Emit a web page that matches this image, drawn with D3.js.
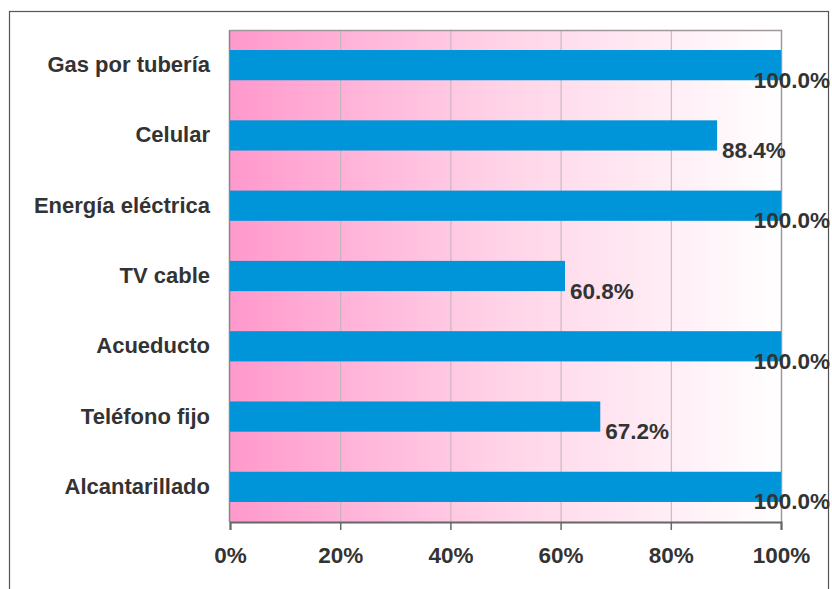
<!DOCTYPE html>
<html><head><meta charset="utf-8">
<script src="https://cdn.jsdelivr.net/npm/d3@7"></script>
<style>body{margin:0;background:#fff}svg{display:block}</style>
</head><body>
<svg id="c" width="832" height="589"></svg>
<script>
const categories = ["Gas por tubería","Celular","Energía eléctrica","TV cable","Acueducto","Teléfono fijo","Alcantarillado"];
const values = [100.0, 88.4, 100.0, 60.8, 100.0, 67.2, 100.0];
const tickValues = [0,20,40,60,80,100];

const svg = d3.select("#c");
const m = {left:230, top:30, right:781, bottom:522};
const font = "'Liberation Sans', Arial, sans-serif";

const x = d3.scaleLinear().domain([0,100]).range([m.left, m.right]);
const y = d3.scaleBand().domain(categories).range([m.top, m.bottom]).paddingInner(0.57).paddingOuter(0.285);

// outer frame
svg.append("rect").attr("x",9.5).attr("y",11.5).attr("width",819).attr("height",600)
  .attr("fill","#fff").attr("stroke","#555").attr("stroke-width",1.2);

const defs = svg.append("defs");
const g = defs.append("linearGradient").attr("id","bg").attr("x1","0").attr("x2","1").attr("y1","0").attr("y2","0");
g.append("stop").attr("offset","0%").attr("stop-color","#ff99cc");
g.append("stop").attr("offset","50%").attr("stop-color","#ffd4e8");
g.append("stop").attr("offset","100%").attr("stop-color","#ffffff");

svg.append("rect").attr("x",m.left).attr("y",m.top).attr("width",m.right-m.left).attr("height",m.bottom-m.top)
  .attr("fill","url(#bg)");

// gridlines
svg.append("g").selectAll("line").data(tickValues.slice(1,-1)).join("line")
  .attr("x1",d=>x(d)+0.5).attr("x2",d=>x(d)+0.5).attr("y1",m.top).attr("y2",m.bottom)
  .attr("stroke","#bcb4b4").attr("stroke-width",1);

// plot border top/right
svg.append("path").attr("d",`M${m.left},${m.top+0.5}H${m.right+0.5}V${m.bottom}`)
  .attr("fill","none").attr("stroke","#a09898").attr("stroke-width",1.5);
// left axis
svg.append("line").attr("x1",m.left-0.5).attr("x2",m.left-0.5).attr("y1",m.top).attr("y2",m.bottom)
  .attr("stroke","#888").attr("stroke-width",1.5);

// bars
svg.append("g").selectAll("rect").data(values).join("rect")
  .attr("x",x(0)).attr("y",(d,i)=>y(categories[i]))
  .attr("width",d=>x(d)-x(0)).attr("height",y.bandwidth())
  .attr("fill","#0094d9");

// bottom axis
const ax = svg.append("g").attr("transform",`translate(0,${m.bottom})`)
  .call(d3.axisBottom(x).tickValues(tickValues).tickFormat(d=>d+"%").tickSize(8).tickPadding(17));
ax.select(".domain").attr("stroke","#666").attr("stroke-width",2);
ax.selectAll(".tick line").attr("stroke","#666").attr("stroke-width",1.5);
ax.selectAll(".tick text").attr("font-family",font).attr("font-weight","bold").attr("font-size",22.5).attr("fill","#333");

// category labels
svg.append("g").selectAll("text").data(categories).join("text")
  .attr("x",m.left-20).attr("y",d=>y(d)+y.bandwidth()/2+7)
  .attr("text-anchor","end")
  .attr("font-family",font).attr("font-weight","bold").attr("font-size",22).attr("fill","#333")
  .text(d=>d);

// value labels
const lbl = svg.append("g").selectAll("text").data(values).join("text")
  .attr("y",(d,i)=>y(categories[i])+y.bandwidth()/2+22.5)
  .attr("font-family",font).attr("font-weight","bold").attr("font-size",22.5).attr("fill","#333")
  .text(d=>d.toFixed(1)+"%");
lbl.each(function(d){
  const w = this.getComputedTextLength();
  let xx = x(d)+5;
  if (xx + w > 830) xx = 830 - w;
  d3.select(this).attr("x",xx);
});
</script>
</body></html>
